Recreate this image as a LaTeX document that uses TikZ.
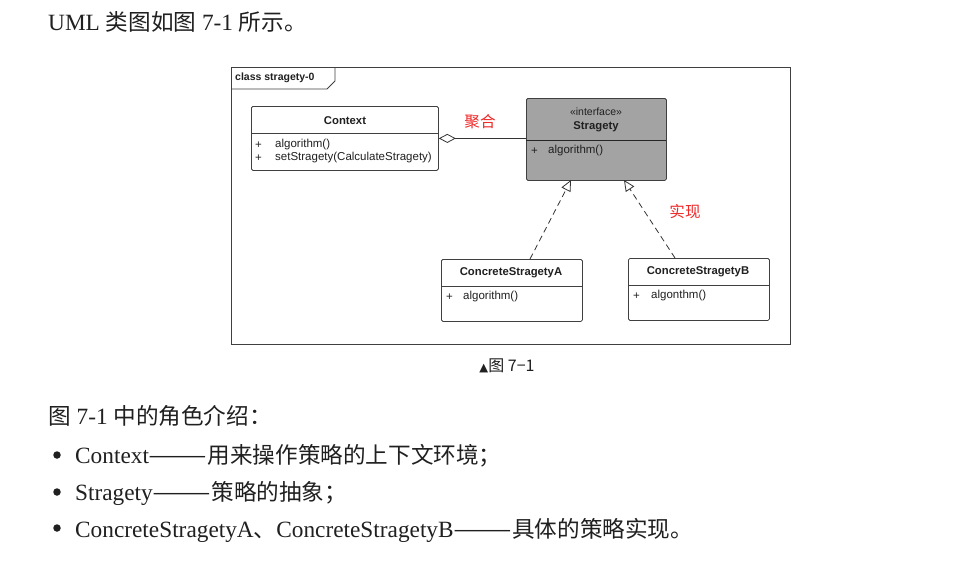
\documentclass[tikz,border=0pt]{standalone}
\usepackage{fontspec}
\usepackage{graphicx}
\setmainfont{Liberation Serif}
\newfontfamily\cjk[Scale=0.97]{Noto Sans CJK SC}
\newfontfamily\uml{Liberation Sans}
\newfontfamily\sym{DejaVu Sans}
\usetikzlibrary{arrows.meta}
\definecolor{redlab}{HTML}{F02828}
\definecolor{ink}{HTML}{202020}
\newcommand{\zhdash}{\scalebox{1.55}[1]{——}}
\begin{document}
\begin{tikzpicture}[x=1pt,y=-1pt,
  body/.style={anchor=base west, inner sep=0, text=ink, font=\fontsize{23.3}{27}\selectfont},
  umlbox/.style={draw=black!75, rounded corners=1.5pt, anchor=north west, inner sep=0, line width=0.8pt},
  umltitle/.style={font=\uml\bfseries\fontsize{11.3}{13}\selectfont, inner sep=0, text=ink},
  umlstereo/.style={font=\uml\fontsize{10.5}{12}\selectfont, inner sep=0, text=ink},
  umltext/.style={font=\uml\fontsize{11.5}{13}\selectfont, inner sep=0, anchor=west, text=ink},
  redlabel/.style={font=\cjk\fontsize{16}{18}\selectfont, text=redlab, inner sep=0},
  bulletdot/.style={circle, fill=ink, inner sep=0, minimum size=7.5pt},
  divider/.style={draw=black!75, line width=0.8pt},
  realize/.style={black!80, line width=0.8pt, dash pattern=on 6pt off 4pt, -{Triangle[open, length=11pt, width=10pt, line width=0.8pt]}}
]
\useasboundingbox (0,0) rectangle (957,560);
\fill[white] (0,0) rectangle (957,560);

% top text
\node[body] (t1) at (48,30) {UML {\cjk 类图如图} 7-1 {\cjk 所示。}};

% frame
\node[draw=black!75, line width=0.8pt, anchor=north west, inner sep=0, minimum width=559pt, minimum height=277pt] (frame) at (231,67) {};
\draw[black!75, line width=0.8pt] (231,89) -- (327,89) -- (335,81) -- (335,67);
\node[font=\uml\bfseries\fontsize{10.5}{12}\selectfont, anchor=west, inner sep=0, text=ink] (flabel) at (235,78) {class stragety-0};

% Context
\node[umlbox, fill=white, minimum width=187pt, minimum height=64pt] (ctx) at (251,106) {};
\draw[divider] (251,133) -- (438,133);
\node[umltitle] (ctxt) at (345,121) {Context};
\node[umltext] (ctxp1) at (255,145) {+};
\node[umltext] (ctxm1) at (275,145) {algorithm()};
\node[umltext] (ctxp2) at (255,158) {+};
\node[umltext] (ctxm2) at (275,158) {setStragety(CalculateStragety)};

% Stragety
\node[umlbox, fill=black!36, minimum width=140pt, minimum height=82pt] (str) at (526,98) {};
\draw[divider, black!85] (526,140) -- (666,140);
\node[umlstereo] (strs) at (596,112) {«interface»};
\node[umltitle] (strt) at (596,127) {Stragety};
\node[umltext] (strp) at (531,151) {+};
\node[umltext] (strm) at (548,151) {algorithm()};

% Concrete A
\node[umlbox, fill=white, minimum width=141pt, minimum height=62pt] (ca) at (441,259) {};
\draw[divider] (441,286) -- (582,286);
\node[umltitle] (cat) at (511,273) {ConcreteStragetyA};
\node[umltext] (cap1) at (446,297) {+};
\node[umltext] (cam1) at (463,297) {algorithm()};

% Concrete B
\node[umlbox, fill=white, minimum width=141pt, minimum height=62pt] (cb) at (628,258) {};
\draw[divider] (628,285) -- (769,285);
\node[umltitle] (cbt) at (698,272) {ConcreteStragetyB};
\node[umltext] (cbp1) at (633,296) {+};
\node[umltext] (cbm1) at (651,296) {algonthm()};

% aggregation
\draw[black!80, line width=0.8pt, {Diamond[open, length=17pt, width=9pt, line width=0.8pt]}-] (ctx.east) -- (ctx.east -| str.west);
\node[redlabel] (agg) at (480,122) {聚合};

% realization
\coordinate (atail) at (530,259);
\coordinate (ahead) at (571,180);
\coordinate (btail) at (675,258);
\coordinate (bhead) at (624,180);
\draw[realize] (atail) -- (ahead);
\draw[realize] (btail) -- (bhead);
\node[redlabel] (real) at (685,212) {实现};

% caption
\node[inner sep=0, text=ink] (caption) at (507,366) {{\sym\fontsize{11.5}{12}\selectfont ▲}{\cjk\fontsize{16.5}{18}\selectfont 图 7−1}};

% body text
\node[body] (t2) at (48,424) {{\cjk 图} 7-1 {\cjk 中的角色介绍：}};
\node[bulletdot] (b1) at (57,455) {};
\node[body] (l1) at (75,463) {Context{\cjk \zhdash 用来操作策略的上下文环境；}};
\node[bulletdot] (b2) at (57,492) {};
\node[body] (l2) at (75,500) {Stragety{\cjk \zhdash 策略的抽象；}};
\node[bulletdot] (b3) at (57,528) {};
\node[body] (l3) at (75,537) {ConcreteStragetyA{\cjk 、}ConcreteStragetyB{\cjk \zhdash 具体的策略实现。}};
\end{tikzpicture}
\end{document}
